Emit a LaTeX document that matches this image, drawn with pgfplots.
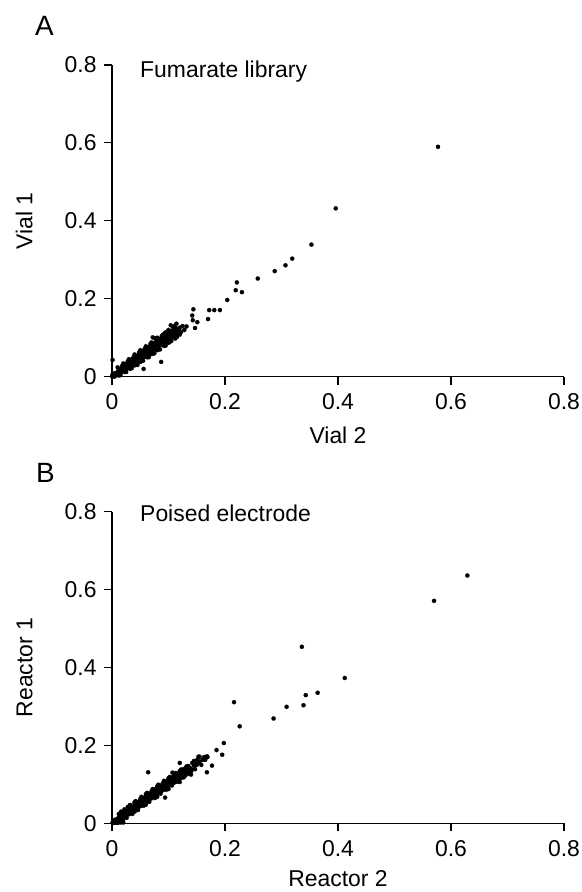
\documentclass[border=0pt]{standalone}
\usepackage{fontspec}
\setmainfont{Liberation Sans}
\usepackage{pgfplots}
\pgfplotsset{compat=1.18}
\pgfplotsset{
  myax/.style={
    width=452bp, height=311.7bp, scale only axis,
    xmin=0, xmax=0.8, ymin=0, ymax=0.8,
    axis lines=left,
    axis line style={-, line width=1.1bp, black},
    xtick={0,0.2,0.4,0.6,0.8}, ytick={0,0.2,0.4,0.6,0.8},
    tick align=outside, major tick length=8bp,
    tick style={line width=1.1bp, black},
    /pgf/number format/assume math mode=true,
    ticklabel style={font=\fontsize{23}{27}\selectfont, inner sep=0pt},
    xticklabel style={yshift=-8.7bp},
    yticklabel style={xshift=-7.3bp},
    label style={font=\fontsize{23}{27}\selectfont, inner sep=0pt},
    ylabel style={at={(axis description cs:-0.1763,0.5)}, anchor=base},
    clip=false,
  },
  dots/.style={only marks, mark=*, mark size=2.1bp, mark options={fill=black, draw=black, line width=0.2bp}},
}
\begin{document}
\begin{tikzpicture}
\useasboundingbox (0,0) rectangle (582bp,-892bp);
\node[anchor=base west, inner sep=0pt, font=\fontsize{28}{32}\selectfont] at (35bp,-35bp) {A};
\node[anchor=base west, inner sep=0pt, font=\fontsize{28}{32}\selectfont] at (36bp,-482.7bp) {B};
\begin{axis}[myax, at={(112bp,-376.7bp)}, anchor=south west, xlabel={Vial 2}, ylabel={Vial 1},
  xlabel style={at={(axis description cs:0.5,-0.2127)}, anchor=base}]
\addplot[dots] coordinates {
(0.577,0.590) (0.396,0.432) (0.353,0.339) (0.319,0.303) (0.307,0.286) (0.288,0.271)
(0.258,0.252) (0.221,0.242) (0.219,0.222) (0.230,0.217) (0.204,0.197)
(0.191,0.171) (0.181,0.171) (0.172,0.171) (0.170,0.148) (0.144,0.173) (0.142,0.157)
(0.143,0.145) (0.151,0.140) (0.147,0.125) (0.001,0.043) (0.087,0.038) (0.056,0.020)
(0.114,0.136) (0.104,0.132) (0.094,0.113) (0.076,0.099) (0.072,0.101) (0.132,0.129) (0.119,0.120)
(0.060,0.078) (0.050,0.038) (0.040,0.029) (0.070,0.058) (0.080,0.068) (0.030,0.041)
(0.100,0.087) (0.110,0.124) (0.095,0.110) (0.003,0.000) (0.000,0.001) (0.001,0.005)
(0.002,0.003) (0.004,0.002) (0.005,0.007) (0.006,0.004) (0.008,0.010) (0.008,0.006)
(0.010,0.012) (0.010,0.008) (0.011,0.015) (0.012,0.010) (0.013,0.013) (0.014,0.018)
(0.015,0.012) (0.016,0.016) (0.017,0.021) (0.018,0.014) (0.019,0.019) (0.020,0.024)
(0.021,0.017) (0.022,0.022) (0.023,0.027) (0.024,0.020) (0.025,0.026) (0.026,0.031)
(0.027,0.022) (0.028,0.029) (0.029,0.034) (0.030,0.025) (0.031,0.032) (0.032,0.037)
(0.033,0.028) (0.034,0.035) (0.035,0.040) (0.036,0.030) (0.037,0.038) (0.038,0.044)
(0.039,0.033) (0.040,0.041) (0.041,0.047) (0.042,0.036) (0.043,0.045) (0.044,0.050)
(0.045,0.039) (0.046,0.048) (0.047,0.053) (0.048,0.042) (0.049,0.051) (0.050,0.057)
(0.051,0.045) (0.052,0.054) (0.053,0.060) (0.054,0.048) (0.055,0.057) (0.056,0.063)
(0.057,0.051) (0.058,0.060) (0.059,0.066) (0.060,0.054) (0.061,0.063) (0.062,0.070)
(0.063,0.057) (0.064,0.066) (0.065,0.073) (0.066,0.059) (0.067,0.069) (0.068,0.076)
(0.069,0.062) (0.070,0.072) (0.071,0.079) (0.072,0.066) (0.073,0.075) (0.074,0.082)
(0.075,0.069) (0.076,0.078) (0.077,0.085) (0.078,0.072) (0.079,0.081) (0.080,0.088)
(0.081,0.075) (0.082,0.084) (0.083,0.091) (0.084,0.079) (0.085,0.087) (0.086,0.094)
(0.087,0.082) (0.088,0.090) (0.090,0.097) (0.090,0.085) (0.092,0.093) (0.093,0.100)
(0.094,0.088) (0.095,0.096) (0.096,0.103) (0.097,0.091) (0.098,0.100) (0.099,0.106)
(0.100,0.094) (0.101,0.103) (0.102,0.110) (0.104,0.098) (0.105,0.107) (0.106,0.113)
(0.108,0.102) (0.109,0.111) (0.110,0.117) (0.112,0.106) (0.113,0.115) (0.115,0.121)
(0.117,0.110) (0.118,0.120) (0.120,0.126) (0.122,0.114)
(0.010,0.024) (0.015,0.004) (0.020,0.034) (0.025,0.012) (0.030,0.045) (0.035,0.022)
(0.040,0.057) (0.045,0.030) (0.050,0.068) (0.055,0.041) (0.060,0.076) (0.065,0.050)
(0.070,0.088) (0.075,0.060) (0.080,0.100) (0.085,0.070) (0.090,0.108) (0.095,0.080)
(0.100,0.120) (0.105,0.092) (0.110,0.130) (0.115,0.102) (0.108,0.128) (0.098,0.116)
(0.088,0.104) (0.078,0.095) (0.068,0.084) (0.058,0.072) (0.048,0.062) (0.038,0.050)
(0.028,0.040) (0.018,0.028) (0.012,0.003) (0.022,0.012) (0.032,0.020) (0.042,0.031)
(0.052,0.040) (0.062,0.050) (0.072,0.059) (0.082,0.070) (0.092,0.079) (0.102,0.089)
(0.112,0.098) (0.120,0.108) (0.125,0.130) (0.128,0.120)
(0.005,0.009) (0.005,0.001) (0.015,0.020) (0.015,0.010) (0.025,0.033) (0.025,0.018)
(0.035,0.044) (0.035,0.029) (0.045,0.054) (0.045,0.040) (0.055,0.065) (0.055,0.050)
(0.065,0.076) (0.065,0.061) (0.075,0.086) (0.075,0.071) (0.085,0.097) (0.085,0.082)
(0.095,0.107) (0.095,0.093) (0.105,0.118) (0.105,0.104) (0.113,0.125) (0.113,0.109)
(0.020,0.029) (0.020,0.014) (0.030,0.040) (0.030,0.024) (0.040,0.051) (0.040,0.035)
(0.050,0.062) (0.050,0.046) (0.060,0.071) (0.060,0.055) (0.070,0.082) (0.070,0.066)
(0.080,0.093) (0.080,0.077) (0.090,0.103) (0.090,0.088) (0.100,0.113) (0.100,0.097)
(0.110,0.122) (0.110,0.107)
};
\node[anchor=base west, inner sep=0pt, font=\fontsize{23}{27}\selectfont] at (axis cs:0.0496,0.769) {Fumarate library};
\end{axis}
\begin{axis}[myax, at={(112bp,-823.3bp)}, anchor=south west, xlabel={Reactor 2}, ylabel={Reactor 1},
  xlabel style={at={(axis description cs:0.5,-0.2030)}, anchor=base}]
\addplot[dots] coordinates {
(0.629,0.636) (0.570,0.571) (0.336,0.453) (0.412,0.373) (0.364,0.335) (0.343,0.329)
(0.339,0.303) (0.309,0.299) (0.286,0.269) (0.216,0.311) (0.226,0.249) (0.198,0.206)
(0.195,0.176) (0.185,0.188) (0.177,0.148) (0.168,0.172) (0.164,0.164) (0.153,0.171)
(0.064,0.131) (0.107,0.130) (0.120,0.155) (0.169,0.170) (0.168,0.131) (0.165,0.163)
(0.155,0.171) (0.151,0.163) (0.150,0.150) (0.142,0.138) (0.137,0.130) (0.118,0.112)
(0.094,0.066) (0.010,0.001) (0.015,0.002) (0.020,0.002)
(0.001,0.002) (0.003,0.001) (0.004,0.006) (0.006,0.003) (0.007,0.009) (0.009,0.005)
(0.010,0.012) (0.011,0.008) (0.012,0.015) (0.014,0.010) (0.015,0.017) (0.016,0.013)
(0.018,0.020) (0.019,0.015) (0.020,0.023) (0.022,0.018) (0.023,0.026) (0.024,0.020)
(0.025,0.029) (0.027,0.023) (0.028,0.031) (0.029,0.025) (0.030,0.034) (0.032,0.028)
(0.033,0.037) (0.034,0.030) (0.035,0.040) (0.037,0.033) (0.038,0.042) (0.039,0.035)
(0.040,0.045) (0.042,0.038) (0.043,0.048) (0.044,0.040) (0.045,0.050) (0.047,0.043)
(0.048,0.053) (0.049,0.045) (0.050,0.056) (0.052,0.048) (0.053,0.058) (0.054,0.050)
(0.055,0.061) (0.057,0.053) (0.058,0.064) (0.059,0.055) (0.060,0.066) (0.062,0.058)
(0.063,0.069) (0.064,0.060) (0.065,0.072) (0.067,0.063) (0.068,0.074) (0.069,0.065)
(0.070,0.077) (0.072,0.068) (0.073,0.080) (0.074,0.070) (0.075,0.082) (0.077,0.073)
(0.078,0.085) (0.079,0.075) (0.080,0.088) (0.082,0.078) (0.083,0.090) (0.084,0.080)
(0.085,0.093) (0.087,0.083) (0.088,0.095) (0.089,0.085) (0.090,0.098) (0.092,0.088)
(0.093,0.101) (0.094,0.090) (0.095,0.103) (0.097,0.093) (0.098,0.106) (0.099,0.095)
(0.100,0.108) (0.102,0.098) (0.104,0.111) (0.105,0.100) (0.107,0.114) (0.108,0.103)
(0.110,0.117) (0.112,0.106) (0.113,0.120) (0.115,0.110) (0.117,0.123) (0.119,0.113)
(0.120,0.126) (0.122,0.116) (0.124,0.130) (0.126,0.120) (0.128,0.133) (0.130,0.123)
(0.133,0.137) (0.135,0.128) (0.138,0.142) (0.140,0.133) (0.145,0.148) (0.150,0.153)
(0.155,0.158) (0.160,0.163)
(0.012,0.024) (0.016,0.004) (0.022,0.036) (0.026,0.014) (0.032,0.047) (0.036,0.024)
(0.042,0.057) (0.046,0.034) (0.052,0.068) (0.056,0.045) (0.062,0.078) (0.066,0.055)
(0.072,0.088) (0.076,0.065) (0.082,0.099) (0.086,0.076) (0.092,0.109) (0.096,0.086)
(0.102,0.119) (0.106,0.097) (0.112,0.129) (0.116,0.107) (0.122,0.138) (0.127,0.118)
(0.132,0.146) (0.137,0.128) (0.142,0.155) (0.147,0.139) (0.016,0.030) (0.028,0.042)
(0.040,0.054) (0.060,0.075) (0.080,0.095) (0.100,0.116) (0.120,0.134) (0.020,0.010)
(0.040,0.030) (0.060,0.048) (0.080,0.068) (0.100,0.088) (0.120,0.106) (0.140,0.125)
(0.158,0.150) (0.163,0.170) (0.145,0.160)
(0.005,0.009) (0.005,0.001) (0.015,0.021) (0.015,0.010) (0.025,0.032) (0.025,0.020)
(0.035,0.043) (0.035,0.030) (0.045,0.054) (0.045,0.040) (0.055,0.065) (0.055,0.050)
(0.065,0.076) (0.065,0.060) (0.075,0.087) (0.075,0.070) (0.085,0.097) (0.085,0.080)
(0.095,0.108) (0.095,0.090) (0.105,0.118) (0.105,0.100) (0.115,0.128) (0.115,0.110)
(0.125,0.138) (0.125,0.120) (0.135,0.147) (0.135,0.131)
(0.020,0.030) (0.020,0.013) (0.030,0.040) (0.030,0.023) (0.040,0.051) (0.040,0.034)
(0.050,0.062) (0.050,0.044) (0.060,0.071) (0.060,0.054) (0.070,0.082) (0.070,0.064)
(0.080,0.092) (0.080,0.075) (0.090,0.103) (0.090,0.085) (0.100,0.113) (0.100,0.095)
(0.110,0.123) (0.110,0.105) (0.130,0.142) (0.130,0.124)
};
\node[anchor=base west, inner sep=0pt, font=\fontsize{23}{27}\selectfont] at (axis cs:0.0496,0.774) {Poised electrode};
\end{axis}
\end{tikzpicture}
\end{document}
